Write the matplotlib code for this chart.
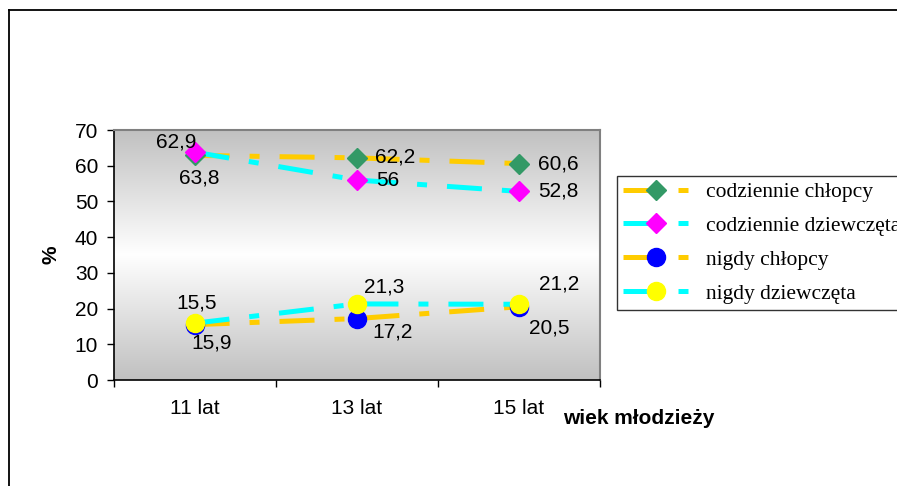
import numpy as np
import matplotlib
matplotlib.use("Agg")
import matplotlib.pyplot as plt
from matplotlib.lines import Line2D

categories = ["11 lat", "13 lat", "15 lat"]
series_names = ["codziennie chłopcy", "codziennie dziewczęta", "nigdy chłopcy", "nigdy dziewczęta"]
codziennie_chlopcy = [62.9, 62.2, 60.6]
codziennie_dziewczeta = [63.8, 56.0, 52.8]
nigdy_chlopcy = [15.5, 17.2, 20.5]
nigdy_dziewczeta = [15.9, 21.3, 21.2]
y_ticks = [0, 10, 20, 30, 40, 50, 60, 70]

series = [codziennie_chlopcy, codziennie_dziewczeta, nigdy_chlopcy, nigdy_dziewczeta]
line_colors = ["#FFCC00", "#00FFFF", "#FFCC00", "#00FFFF"]
marker_colors = ["#339966", "#FF00FF", "#0000FF", "#FFFF00"]
markers = ["D", "D", "o", "o"]
msizes = [10, 10, 13, 13]
LW = 3.6
dash = (7, 4, 2, 4)

# label offsets in pixels (dx, dy, ha) per series, per category
offsets = [
    [(-18, 13, "center"), (18, 1, "left"), (19, 0, "left")],
    [(5, -26, "center"), (19, 0, "left"), (19, 0, "left")],
    [(2, 22, "center"), (36, -13, "center"), (30, -21, "center")],
    [(17, -20, "center"), (27, 17, "center"), (40, 20, "center")],
]

FS = 15

plt.rcParams["font.family"] = ["Liberation Sans", "DejaVu Sans"]

W, H = 897, 486
fig = plt.figure(figsize=(W / 100, H / 100), dpi=100)
ax = fig.add_axes([113.5 / W, 1 - 380 / H, (600 - 113.5) / W, 250 / H])

x = np.arange(len(categories))
ax.set_xlim(-0.5, len(categories) - 0.5)
ax.set_ylim(0, 70)

# gradient background (gray at top and bottom, white in the middle)
t = np.linspace(0, 1, 256)
g = 1 - np.abs(t - 0.5) * 2
vals = (192 + (255 - 192) * g) / 255.0
col = np.repeat(vals[:, None], 2, axis=1)
img = np.stack([col, col, col], axis=-1)
ax.imshow(img, extent=[-0.5, len(categories) - 0.5, 0, 70], origin="lower",
          aspect="auto", zorder=0, interpolation="bilinear")

for s, lc in zip(series, line_colors):
    ax.plot(x, s, color=lc, lw=LW, dashes=dash, solid_capstyle="butt",
            dash_capstyle="butt", zorder=2)
for s, mc, mk, ms in zip(series, marker_colors, markers, msizes):
    ax.plot(x, s, linestyle="none", marker=mk, markersize=ms,
            markerfacecolor=mc, markeredgecolor=mc, zorder=3)

for s, offs in zip(series, offsets):
    for xi, v, (dx, dy, ha) in zip(x, s, offs):
        lbl = ("%g" % v).replace(".", ",")
        ax.annotate(lbl, (xi, v), xytext=(dx, dy), textcoords="offset pixels",
                    ha=ha, va="center", fontsize=FS, color="black", zorder=4)

# spines
for side in ["top", "right"]:
    ax.spines[side].set_color("#808080")
    ax.spines[side].set_linewidth(1.5)
for side in ["left", "bottom"]:
    ax.spines[side].set_color("black")
    ax.spines[side].set_linewidth(1.2)

ax.set_yticks(y_ticks)
ax.set_yticklabels([str(v) for v in y_ticks], fontsize=FS)
ax.tick_params(axis="y", direction="out", length=5, width=1, pad=6)

ax.set_xticks(np.arange(len(categories) + 1) - 0.5)
ax.set_xticklabels([])
ax.tick_params(axis="x", which="major", direction="out", length=5, width=1)
ax.set_xticks(x, minor=True)
ax.set_xticklabels(categories, minor=True, fontsize=FS)
ax.tick_params(axis="x", which="minor", length=0, pad=14)

ax.set_ylabel("%", fontsize=FS, fontweight="bold", labelpad=10)
fig.text(563 / W, 1 - 418 / H, "wiek młodzieży", fontsize=FS, fontweight="bold",
         ha="left", va="center")

handles = [Line2D([], [], color=lc, lw=LW, dashes=dash, marker=mk, markersize=ms,
                  markerfacecolor=mc, markeredgecolor=mc)
           for lc, mc, mk, ms in zip(line_colors, marker_colors, markers, msizes)]
leg = fig.legend(handles, series_names, loc="upper left",
                 bbox_to_anchor=(617 / W, 1 - 176 / H),
                 prop={"family": "Liberation Serif", "size": 15.5},
                 frameon=True, fancybox=False, edgecolor="black",
                 handlelength=3.1, handletextpad=0.75, labelspacing=0.64,
                 borderpad=0.28, borderaxespad=0, numpoints=1)
leg.get_frame().set_linewidth(1)

# outer chart border (left and top)
fig.add_artist(Line2D([8.5 / W, 8.5 / W], [0, 1 - 10.5 / H], transform=fig.transFigure,
                      color="black", lw=1.3))
fig.add_artist(Line2D([8.5 / W, 1], [1 - 10.5 / H, 1 - 10.5 / H], transform=fig.transFigure,
                      color="black", lw=1.3))

fig.savefig("out.png", dpi=100)
